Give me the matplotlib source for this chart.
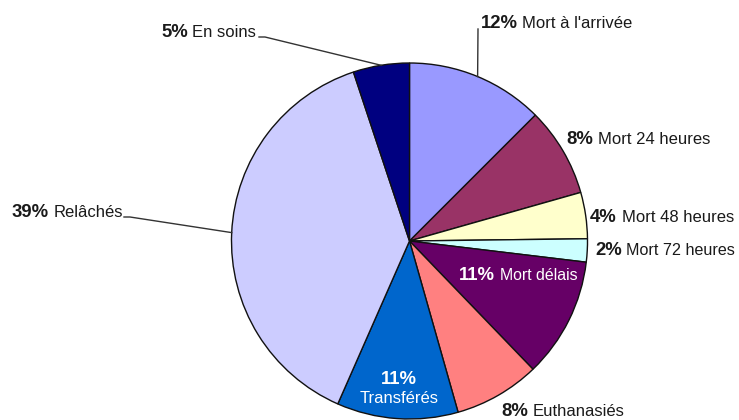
import numpy as np
import matplotlib
matplotlib.use("Agg")
import matplotlib.pyplot as plt

# ---- data (share of cases, %, clockwise from 12 o'clock) ----
categories = ["Mort à l'arrivée", "Mort 24 heures", "Mort 48 heures", "Mort 72 heures",
              "Mort délais", "Euthanasiés", "Transférés", "Relâchés", "En soins"]
shares = [12.5, 8.1, 4.2, 2.1, 10.9, 7.8, 11.0, 38.3, 5.1]
pct_labels = ["12%", "8%", "4%", "2%", "11%", "8%", "11%", "39%", "5%"]
colors = ["#9999FF", "#993366", "#FFFFCC", "#CCFFFF", "#660066",
          "#FF8080", "#0066CC", "#CCCCFF", "#000080"]

W, H = 739, 420
CX, CY, R = 409.5, 241, 178          # pie centre / radius in pixels (y from top)
TXT = "#1a1a1a"
FONT = "Liberation Sans"

fig = plt.figure(figsize=(W / 100, H / 100), dpi=100, facecolor="white")
ax = fig.add_axes([0, 0, 1, 1])

def py(y):
    # pixel row (from top) -> data y
    return H - y

ax.pie(shares, colors=colors, startangle=90, counterclock=False,
       center=(CX, py(CY)), radius=R,
       wedgeprops=dict(edgecolor="#111111", linewidth=1.0))
ax.set_xlim(0, W)
ax.set_ylim(0, H)
ax.set_aspect("equal")
ax.axis("off")

# mid-angle edge point of each wedge
cum = np.cumsum([0] + shares[:-1])
mid_deg = 90 - 360 * (cum + np.array(shares) / 2) / 100
edge_pts = [(CX + R * np.cos(np.radians(a)), py(CY) + R * np.sin(np.radians(a)))
            for a in mid_deg]

# label layout: (split x between pct and name, baseline row, colour, name size)
layout = [
    (518, 28, TXT, 12),
    (593, 144, TXT, 12),
    (617, 222, TXT, 12),
    (622, 255, TXT, 11.6),
    (495, 280, "white", 11.4),
    (528, 416, TXT, 12),
    None,                     # Transférés: stacked inside the wedge
    (49, 217, TXT, 12),
    (188, 37, TXT, 12),
]

for i, pos in enumerate(layout):
    if pos is None:
        continue
    xs, yb, c, fs = pos
    ax.text(xs, py(yb), pct_labels[i], ha="right", va="baseline", color=c,
            fontsize=13.3, fontweight="bold", family=FONT)
    ax.text(xs + 4.5, py(yb), categories[i], ha="left", va="baseline", color=c,
            fontsize=fs, family=FONT)

# stacked label inside the Transférés wedge
ax.text(399, py(384), pct_labels[6], ha="center", va="baseline", color="white",
        fontsize=13.3, fontweight="bold", family=FONT)
ax.text(399, py(403), categories[6], ha="center", va="baseline", color="white",
        fontsize=12, family=FONT)

# leader lines
lc = dict(color="#333333", linewidth=1.0)
ex, ey = edge_pts[0]
ax.plot([478, ex], [py(29), ey], **lc)
ex, ey = edge_pts[8]
ax.plot([259, 265, ex], [py(37), py(37), ey], **lc)
ex, ey = edge_pts[7]
ax.plot([124, 130, ex], [py(217), py(217), ey], **lc)

fig.savefig("out.png", dpi=100, facecolor="white")
